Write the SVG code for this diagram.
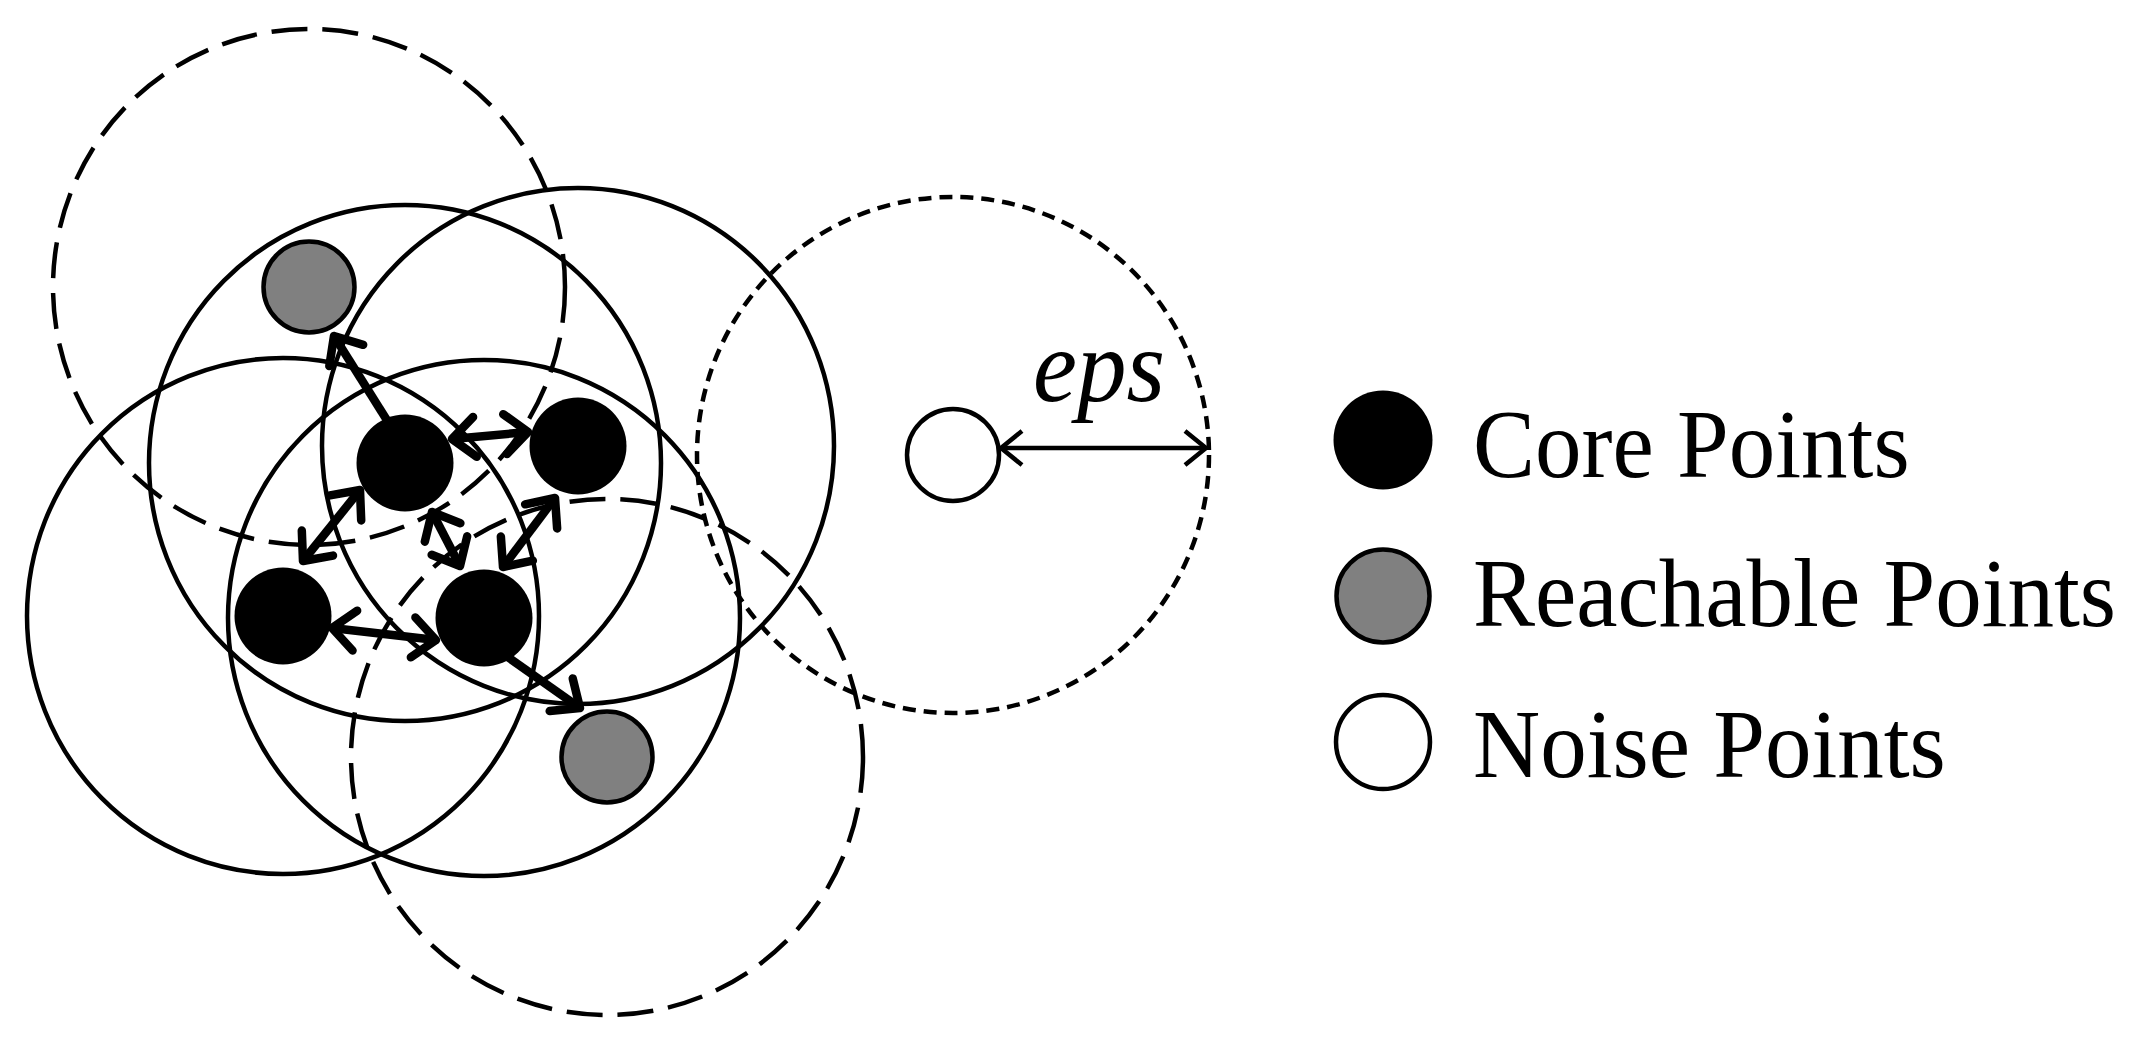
<svg xmlns="http://www.w3.org/2000/svg" width="2133" height="1051" viewBox="0 0 2133 1051">
  <style>
    .ring { fill: none; stroke: #000; stroke-width: 4.5; }
    .dash { stroke-dasharray: 36 15; }
    .dot { stroke-dasharray: 13 8; }
    .conn { stroke: #000; stroke-width: 8.5; fill: none; }
    .thin { stroke: #000; stroke-width: 4.5; fill: none; }
    .core { fill: #000; }
    .reach { fill: #808080; stroke: #000; stroke-width: 4.5; }
    .noise { fill: #fff; stroke: #000; stroke-width: 4.5; }
    .lbl { font-family: "Liberation Serif", "Times New Roman", serif; font-size: 93px; fill: #000; }
    .eps { font-family: "Liberation Serif", "Times New Roman", serif; font-style: italic; font-size: 104px; fill: #000; }
  </style>
  <defs>
    <marker id="ah" markerUnits="userSpaceOnUse" markerWidth="70" markerHeight="70" viewBox="-35 -35 70 70" refX="0" refY="0" orient="auto-start-reverse" overflow="visible">
      <path d="M -23 -20 L 0 0 L -23 20" fill="none" stroke="#000" stroke-width="8.5" stroke-linecap="round" stroke-linejoin="round"/>
    </marker>
    <marker id="ahThin" markerUnits="userSpaceOnUse" markerWidth="60" markerHeight="60" viewBox="-30 -30 60 60" refX="0" refY="0" orient="auto-start-reverse" overflow="visible">
      <path d="M -21 -17 L 0 0 L -21 17" fill="none" stroke="#000" stroke-width="4.5" stroke-linecap="butt" stroke-linejoin="miter"/>
    </marker>
  </defs>
  <rect width="2133" height="1051" fill="#fff"/>

  <g id="eps-neighborhoods">
    <ellipse id="ring-r1" class="ring dash" cx="309" cy="287" rx="256" ry="258"/>
    <ellipse id="ring-c1" class="ring" cx="405" cy="463" rx="256" ry="258"/>
    <ellipse id="ring-c2" class="ring" cx="578" cy="446" rx="256" ry="258"/>
    <ellipse id="ring-c3" class="ring" cx="283" cy="616" rx="256" ry="258"/>
    <ellipse id="ring-c4" class="ring" cx="484" cy="618" rx="256" ry="258"/>
    <ellipse id="ring-r2" class="ring dash" cx="607" cy="757" rx="256" ry="258"/>
    <ellipse id="ring-n" class="ring dot" cx="953" cy="455" rx="256" ry="258"/>
  </g>

  <g id="connectors">
    <line class="conn" x1="395" y1="433" x2="334" y2="336" marker-end="url(#ah)"/>
    <line class="conn" x1="452" y1="439" x2="528" y2="432" marker-start="url(#ah)" marker-end="url(#ah)"/>
    <line class="conn" x1="360" y1="490" x2="303" y2="561" marker-start="url(#ah)" marker-end="url(#ah)"/>
    <line class="conn" x1="432" y1="512" x2="460" y2="566" marker-start="url(#ah)" marker-end="url(#ah)"/>
    <line class="conn" x1="555" y1="498" x2="503" y2="567" marker-start="url(#ah)" marker-end="url(#ah)"/>
    <line class="conn" x1="332" y1="628" x2="436" y2="640" marker-start="url(#ah)" marker-end="url(#ah)"/>
    <line class="conn" x1="495" y1="648" x2="580" y2="708" marker-end="url(#ah)"/>
    <line class="thin" x1="1001" y1="448" x2="1206" y2="448" marker-start="url(#ahThin)" marker-end="url(#ahThin)"/>
  </g>

  <g id="point-r1"><circle class="reach" cx="309" cy="287" r="45.5"/></g>
  <g id="point-c1"><circle class="core" cx="405" cy="463" r="48.5"/></g>
  <g id="point-c2"><circle class="core" cx="578" cy="446" r="48.5"/></g>
  <g id="point-c3"><circle class="core" cx="283" cy="616" r="48.5"/></g>
  <g id="point-c4"><circle class="core" cx="484" cy="618" r="48.5"/></g>
  <g id="point-r2"><circle class="reach" cx="607" cy="757" r="45.5"/></g>
  <g id="point-noise"><circle class="noise" cx="953" cy="455" r="46"/></g>

  <g id="eps-label">
    <text class="eps" x="1033" y="401" textLength="132" lengthAdjust="spacingAndGlyphs">eps</text>
  </g>

  <g id="legend">
    <g id="legend-core">
      <circle class="core" cx="1383" cy="440" r="49.5"/>
      <text class="lbl" transform="translate(1473,477) scale(1,1.05)" x="0" y="0">Core Points</text>
    </g>
    <g id="legend-reachable">
      <circle class="reach" cx="1383" cy="596" r="46.5"/>
      <text class="lbl" transform="translate(1473,626) scale(1,1.05)" x="0" y="0">Reachable Points</text>
    </g>
    <g id="legend-noise">
      <circle class="noise" cx="1383" cy="742" r="47"/>
      <text class="lbl" transform="translate(1473,777) scale(1,1.05)" x="0" y="0">Noise Points</text>
    </g>
  </g>
</svg>
